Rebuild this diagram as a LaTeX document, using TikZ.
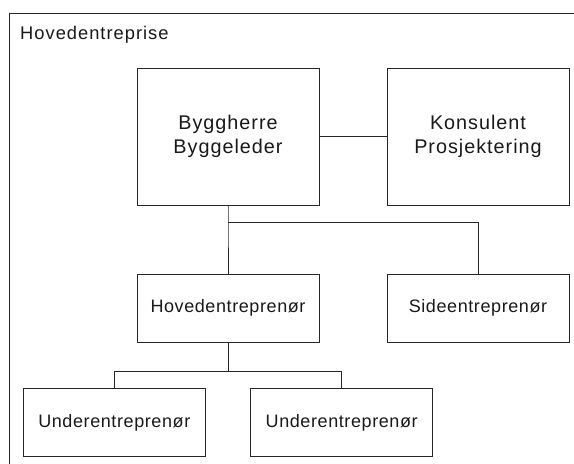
\documentclass[tikz,border=0pt]{standalone}
\usepackage{fontspec}
\setmainfont{Liberation Sans}
\begin{document}
\begin{tikzpicture}[x=1pt,y=-1pt,
  line/.style={draw=black!85,line width=1pt},
  orgbox/.style={line,rectangle,inner sep=0pt,minimum width=182pt,align=center,text=black!90},
  bigbox/.style={orgbox,minimum height=137pt,
    font=\fontsize{19.8}{24}\selectfont\addfontfeatures{LetterSpace=5}},
  smallbox/.style={orgbox,minimum height=68pt,
    font=\fontsize{18}{22}\selectfont\addfontfeatures{LetterSpace=3.3}},
  heading/.style={inner sep=0pt,anchor=base west,text=black!90,
    font=\fontsize{18.3}{20}\selectfont\addfontfeatures{LetterSpace=5.5}}]
\useasboundingbox (0,0) rectangle (574,464);
\clip (0,0) rectangle (574,464);
\fill[white] (0,0) rectangle (574,464);

% outer frame, running past the page edges
\draw[line] (9.5,480) -- (9.5,13.5) -- (590,13.5);
\node[heading] (title) at (20,39) {Hovedentreprise};

% boxes
\node[bigbox] (bygg) at (228,136.5) {Byggherre\\Byggeleder};
\node[bigbox] (kons) at (478,136.5) {Konsulent\\Prosjektering};
\node[smallbox] (hoved) at (228,308) {Hovedentreprenør};
\node[smallbox] (side) at (478,308) {Sideentreprenør};
\node[smallbox] (under1) at (114.3,422.5) {Underentreprenør};
\node[smallbox] (under2) at (341.7,422.5) {Underentreprenør};

% connectors
\coordinate (j1) at (228,222);
\coordinate (j2) at (228,371);
\draw[line] (bygg) -- (kons);
\draw[line] (bygg.south) -- (j1) -- (hoved.north);
\draw[line] (j1) -| (side.north);
\draw[line] (hoved.south) -- (j2);
\draw[line] (j2) -| (under1.north);
\draw[line] (j2) -| (under2.north);
\end{tikzpicture}
\end{document}
